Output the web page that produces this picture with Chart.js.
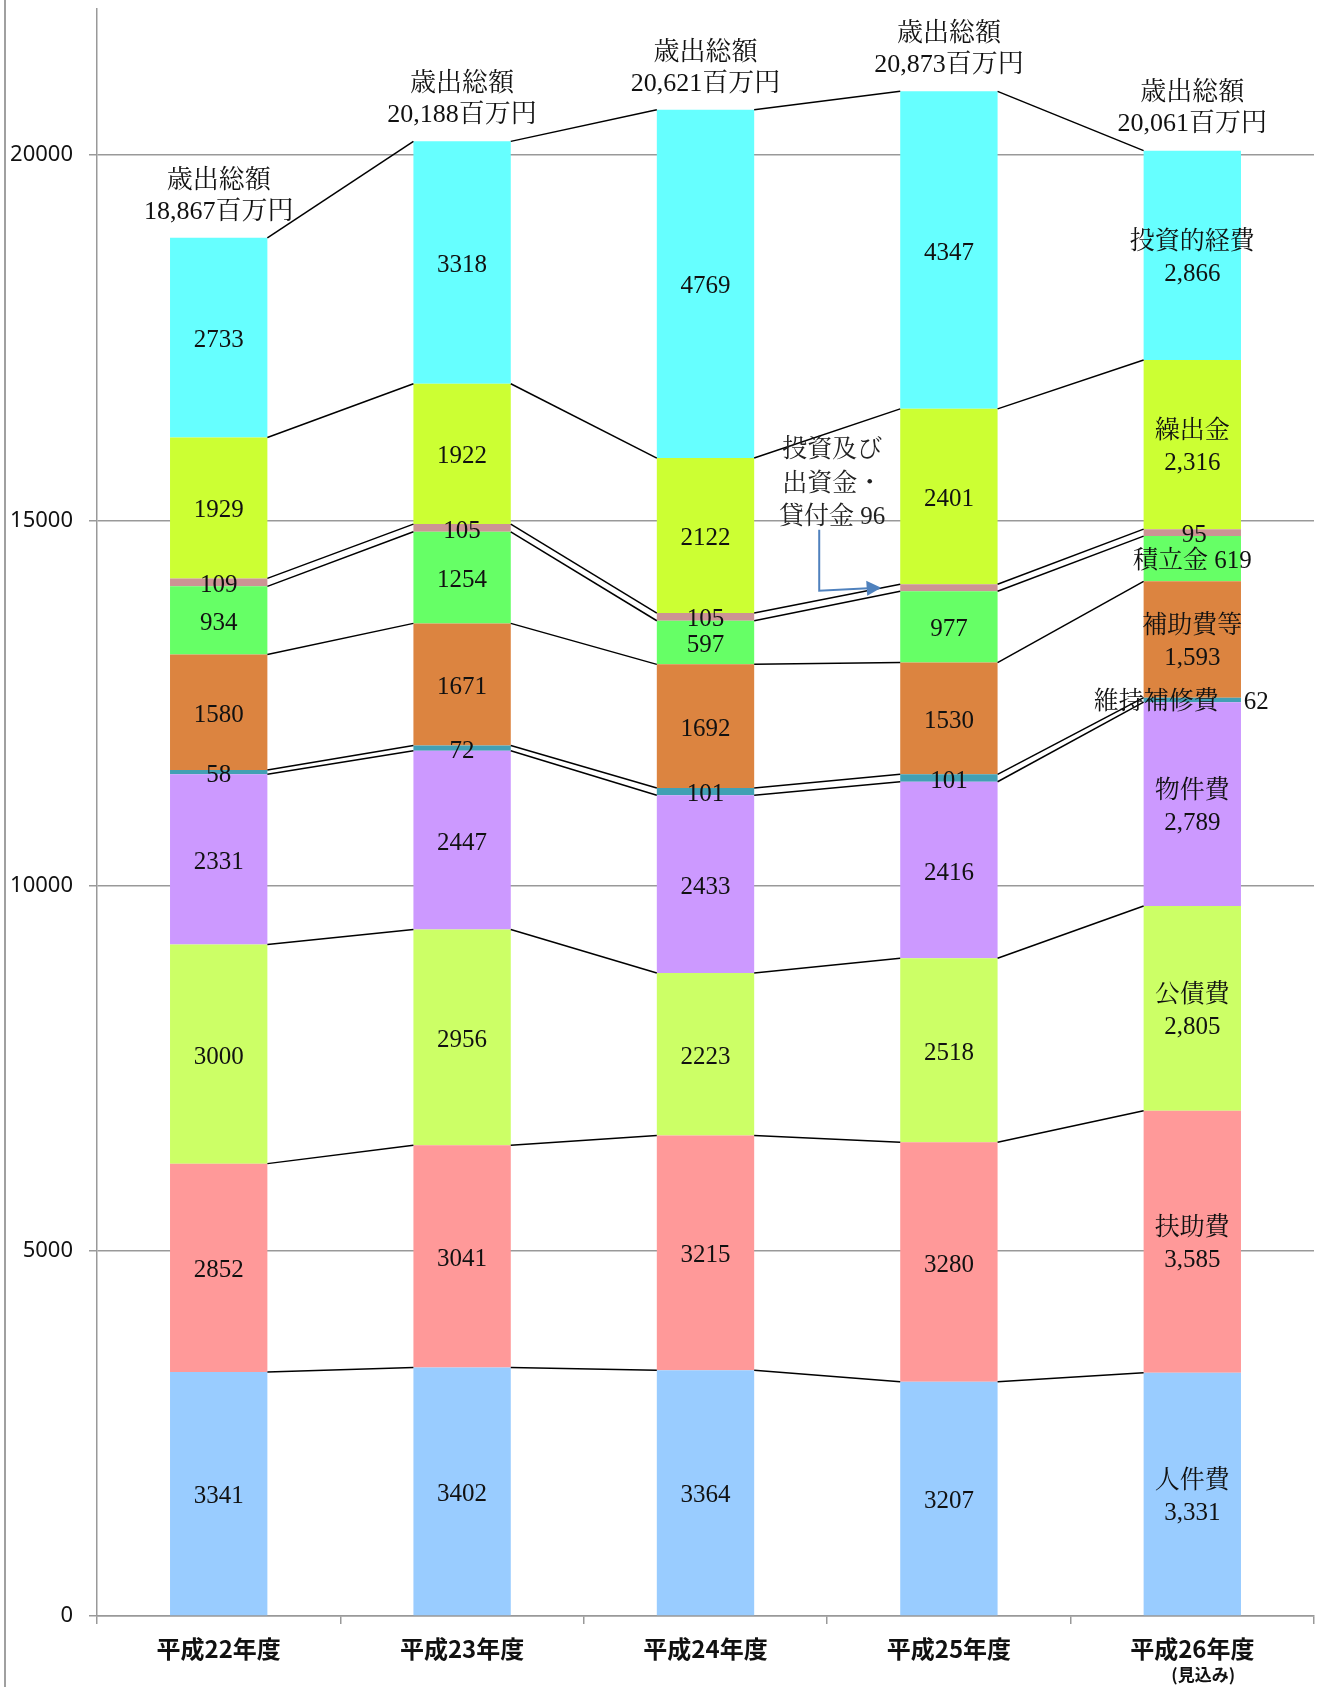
<!DOCTYPE html>
<html><head><meta charset="utf-8">
<script src="https://cdn.jsdelivr.net/npm/chart.js@4.4.1/dist/chart.umd.min.js"></script>
<style>html,body{margin:0;padding:0;background:#fff;} #wrap{width:1319px;height:1687px;position:relative;}</style>
</head><body><div id="wrap"><canvas id="c"></canvas></div>
<script>
const categories = ['平成22年度','平成23年度','平成24年度','平成25年度','平成26年度'];
const categoryNote = '(見込み)';
const seriesNames = ['人件費','扶助費','公債費','物件費','維持補修費','補助費等','積立金','投資及び出資金・貸付金','繰出金','投資的経費'];
const jinkenhi        = [3341, 3402, 3364, 3207, 3331];
const fujohi          = [2852, 3041, 3215, 3280, 3585];
const kosaihi         = [3000, 2956, 2223, 2518, 2805];
const bukkenhi        = [2331, 2447, 2433, 2416, 2789];
const ijihoshuhi      = [58, 72, 101, 101, 62];
const hojohi          = [1580, 1671, 1692, 1530, 1593];
const tsumitatekin    = [934, 1254, 597, 977, 619];
const toshikashitsuke = [109, 105, 105, 96, 95];
const kuridashikin    = [1929, 1922, 2122, 2401, 2316];
const toshitekikeihi  = [2733, 3318, 4769, 4347, 2866];
const yTicks = [0, 5000, 10000, 15000, 20000];
const totalTitle = '歳出総額';
const totalUnit = '百万円';
const annotationLines = ['投資及び', '出資金・', '貸付金 96'];

const seriesData = [jinkenhi, fujohi, kosaihi, bukkenhi, ijihoshuhi, hojohi, tsumitatekin, toshikashitsuke, kuridashikin, toshitekikeihi];
const colors = ['#99CCFF','#FF9999','#CCFF66','#CC99FF','#42A0B4','#DC8440','#66FF66','#CC9494','#CCFF33','#66FFFF'];

const fmt = v => v.toLocaleString('en-US');
const serifFont = (s) => s + 'px "Liberation Serif", "Noto Serif CJK JP", "Noto Sans CJK JP", serif';
const TY = 3; // text vertical nudge

// last-bar labels: name + value (special single-line ones for thin segments)
function lastLabel(k, v) {
  if (k === 4) return { lines: [seriesNames[k] + '\u3000' + v], dx: -11 };
  if (k === 6) return { lines: [seriesNames[k] + ' ' + v], dx: 0 };
  if (k === 7) return { lines: [String(v)], dx: 2 };
  return { lines: [seriesNames[k], fmt(v)], dx: 0 };
}

const drawPlugin = {
  id: 'drawExtras',
  afterDatasetsDraw(chart) {
    const ctx = chart.ctx;
    const n = categories.length;
    // connector lines
    ctx.save();
    ctx.strokeStyle = '#000';
    ctx.lineWidth = 1.5;
    for (let k = 0; k < seriesData.length; k++) {
      const meta = chart.getDatasetMeta(k);
      for (let i = 0; i < n - 1; i++) {
        const a = meta.data[i], b = meta.data[i + 1];
        ctx.beginPath();
        ctx.moveTo(a.x + a.width / 2, a.y);
        ctx.lineTo(b.x - b.width / 2, b.y);
        ctx.stroke();
      }
    }
    ctx.restore();

    // value labels
    ctx.save();
    ctx.fillStyle = '#111';
    ctx.textAlign = 'center';
    ctx.textBaseline = 'middle';
    ctx.font = serifFont(25);
    for (let k = 0; k < seriesData.length; k++) {
      const meta = chart.getDatasetMeta(k);
      for (let i = 0; i < n; i++) {
        const el = meta.data[i];
        const mid = (el.y + el.base) / 2 + TY;
        if (k === 7 && i === 3) continue; // shown by the annotation instead
        if (i < n - 1) {
          ctx.fillText(String(seriesData[k][i]), el.x, mid);
        } else {
          const lab = lastLabel(k, seriesData[k][i]);
          const h = 32;
          const start = mid - (lab.lines.length - 1) * h / 2;
          lab.lines.forEach((t, j) => ctx.fillText(t, el.x + lab.dx, start + j * h));
        }
      }
    }
    // totals
    ctx.font = serifFont(26);
    const topMeta = chart.getDatasetMeta(seriesData.length - 1);
    for (let i = 0; i < n; i++) {
      const el = topMeta.data[i];
      let total = 0;
      seriesData.forEach(s => total += s[i]);
      ctx.fillText(totalTitle, el.x, el.y - 60 + TY);
      ctx.fillText(fmt(total) + totalUnit, el.x, el.y - 29 + TY);
    }
    // annotation for 投資及び出資金・貸付金 (bar 4)
    ctx.font = serifFont(25);
    const aMeta = chart.getDatasetMeta(7);
    const b3 = chart.getDatasetMeta(0).data[2], b4 = aMeta.data[3];
    const tipX = b4.x - b4.width / 2 - 19;
    const tipY = (b4.y + b4.base) / 2;
    const cx = (b3.x + b4.x) / 2 + 5;
    ctx.fillStyle = '#222';
    ctx.fillText(annotationLines[0], cx, tipY - 140 + TY);
    ctx.fillText(annotationLines[1], cx, tipY - 106 + TY);
    ctx.fillText(annotationLines[2], cx, tipY - 73 + TY);
    ctx.strokeStyle = '#4F81BD';
    ctx.fillStyle = '#4F81BD';
    ctx.lineWidth = 2;
    const vx = tipX - 62;
    ctx.beginPath();
    ctx.moveTo(vx, tipY - 58);
    ctx.lineTo(vx, tipY + 3);
    ctx.lineTo(tipX - 13, tipY + 0.5);
    ctx.stroke();
    ctx.beginPath();
    ctx.moveTo(tipX, tipY);
    ctx.lineTo(tipX - 15, tipY - 7);
    ctx.lineTo(tipX - 14, tipY + 8);
    ctx.closePath();
    ctx.fill();
    ctx.restore();
  },
  afterDraw(chart) {
    const ctx = chart.ctx;
    ctx.save();
    // note under last category
    const xs = chart.scales.x;
    ctx.fillStyle = '#111';
    ctx.textAlign = 'center';
    ctx.textBaseline = 'middle';
    ctx.font = 'bold 17px "Noto Sans CJK JP", sans-serif';
    ctx.fillText(categoryNote, xs.getPixelForTick(categories.length - 1) + 11, chart.chartArea.bottom + 59);
    // outer frame line on the left
    ctx.strokeStyle = '#A0A0A0';
    ctx.lineWidth = 2;
    ctx.beginPath();
    ctx.moveTo(5, 0);
    ctx.lineTo(5, chart.height);
    ctx.stroke();
    ctx.restore();
  }
};

new Chart(document.getElementById('c'), {
  type: 'bar',
  data: {
    labels: categories,
    datasets: seriesData.map((d, k) => ({
      label: seriesNames[k],
      data: d,
      backgroundColor: colors[k],
      borderWidth: 0,
      categoryPercentage: 1.0,
      barPercentage: 0.4
    }))
  },
  options: {
    responsive: true,
    maintainAspectRatio: false,
    animation: false,
    layout: { padding: { top: 9, right: 5, left: 0, bottom: 0 } },
    plugins: { legend: { display: false }, tooltip: { enabled: false } },
    scales: {
      x: {
        stacked: true,
        grid: { drawOnChartArea: false, drawTicks: true, tickLength: 8, color: '#999', lineWidth: 1.5, offset: true },
        border: { display: true, color: '#999', width: 1.5 },
        ticks: { color: '#111', font: { family: '"Noto Sans CJK JP", sans-serif', size: 24, weight: 'bold' }, padding: 10, maxRotation: 0 },
        afterFit: s => { s.height = 71; s.paddingLeft = 0; s.paddingRight = 0; }
      },
      y: {
        stacked: true,
        min: 0,
        max: 22000,
        afterBuildTicks: s => { s.ticks = yTicks.map(v => ({ value: v })); },
        grid: { color: '#999', lineWidth: 1.5, tickLength: 8, drawTicks: true },
        border: { display: true, color: '#999', width: 1.5 },
        ticks: { color: '#111', font: { family: '"Noto Sans", sans-serif', size: 22 }, padding: 16, callback: v => String(v) },
        afterFit: s => { s.width = 97; s.paddingTop = 0; s.paddingBottom = 0; }
      }
    }
  },
  plugins: [drawPlugin]
});
</script>
</body></html>
